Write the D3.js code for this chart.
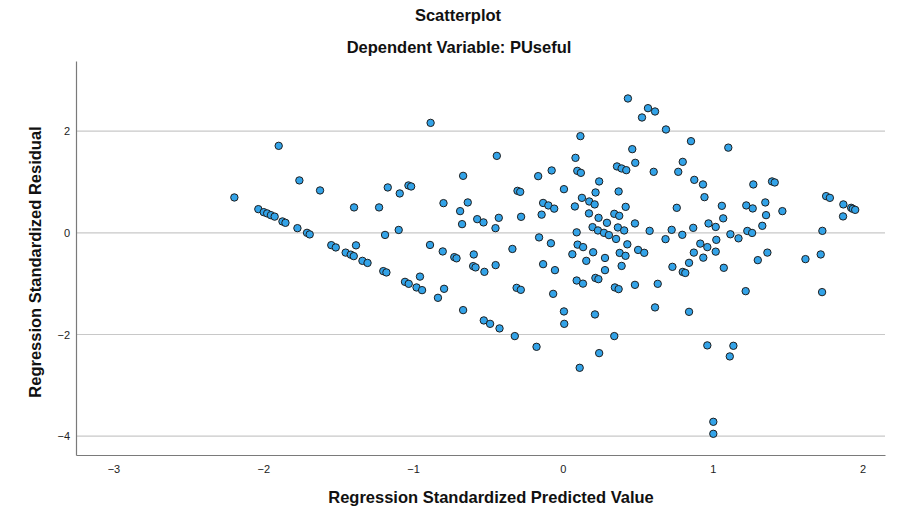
<!DOCTYPE html>
<html>
<head>
<meta charset="utf-8">
<script src="https://cdn.jsdelivr.net/npm/d3@7"></script>
<style>
  body { margin: 0; background: #fff; }
  svg { display: block; font-family: "Liberation Sans", Arial, sans-serif; }
</style>
</head>
<body>
<div id="chart"></div>
<script>
// values
var predicted = [
  -2.193,-2.033,-1.997,-1.974,-1.949,-1.924,-1.897,-1.872,-1.852,-1.772,
  -1.759,-1.708,-1.690,-1.621,-1.546,-1.516,-1.450,-1.416,-1.396,-1.381,
  -1.394,-1.338,-1.304,-1.227,-1.199,-1.178,-1.187,-1.169,-1.096,-1.089,
  -1.054,-1.029,-1.031,-1.013,-0.977,-0.954,-0.940,-0.887,-0.883,-0.834,
  -0.797,-0.802,-0.793,-0.725,-0.710,-0.686,-0.673,-0.666,-0.666,-0.635,
  -0.599,-0.583,-0.595,-0.572,-0.530,-0.524,-0.528,-0.486,-0.450,-0.449,
  -0.441,-0.428,-0.423,-0.337,-0.321,-0.309,-0.281,-0.303,-0.285,-0.279,
  -0.176,-0.165,-0.159,-0.142,-0.132,-0.132,-0.097,-0.080,-0.075,-0.065,
  -0.058,-0.053,0.007,0.009,0.007,0.063,0.084,0.080,0.092,0.092,
  0.096,0.120,0.098,0.135,0.112,0.117,0.127,0.134,0.156,0.176,
  0.174,0.198,0.202,0.212,0.214,0.218,0.217,0.237,0.234,0.238,
  0.242,0.242,0.274,0.281,0.281,0.294,0.307,0.343,0.343,0.347,
  0.372,0.355,0.361,0.392,0.423,0.367,0.372,0.376,0.379,0.418,
  0.392,0.409,0.419,0.430,0.434,0.463,0.483,0.481,0.481,0.502,
  0.543,0.528,0.568,0.615,0.579,0.606,0.615,0.633,0.685,0.688,
  0.726,0.731,0.760,0.770,0.800,0.797,0.800,0.817,0.842,0.842,
  0.855,0.870,0.874,0.877,0.917,0.935,0.945,0.937,0.964,0.964,
  0.972,1.004,1.004,1.020,1.020,1.024,1.061,1.070,1.074,1.104,
  1.114,1.118,1.138,1.172,1.220,1.224,1.231,1.263,1.267,1.271,
  1.301,1.331,1.351,1.356,1.365,1.396,1.414,1.465,1.619,1.721,
  1.732,1.757,1.782,1.872,1.870,1.924,1.935,1.951,1.730
];
var residual = [
  0.696,0.466,0.407,0.382,0.348,0.319,1.711,0.224,0.197,0.092,
  1.031,0.000,-0.031,0.834,-0.242,-0.287,-0.389,-0.429,-0.458,-0.246,
  0.500,-0.551,-0.592,0.500,-0.753,-0.779,-0.041,0.893,0.057,0.775,
  -0.964,-1.003,0.932,0.912,-1.074,-0.861,-1.127,-0.238,2.163,-1.278,
  0.584,-0.366,-1.101,-0.478,-0.501,0.427,0.171,1.121,-1.520,0.598,
  -0.655,-0.680,-0.425,0.269,0.205,-0.767,-1.723,-1.790,0.092,-0.635,
  1.514,0.295,-1.880,-0.317,-2.031,-1.082,-1.121,0.826,0.806,0.315,
  -2.242,1.115,-0.090,0.358,0.588,-0.616,0.539,-0.205,1.227,-1.200,
  0.476,-0.734,-1.546,-1.790,0.859,-0.421,1.475,0.519,0.010,-0.938,
  1.219,1.180,-0.232,-0.281,-2.655,1.902,0.688,-0.999,-0.551,0.617,
  0.382,0.112,-0.382,0.559,-1.605,0.794,-0.887,-0.911,0.047,0.295,
  1.011,-2.366,0.000,-0.494,-0.734,0.197,-0.045,0.374,-2.031,-1.074,
  -1.107,-0.120,1.306,1.266,1.233,0.106,0.814,0.334,-0.395,-0.452,
  -0.651,0.047,0.511,-0.226,2.643,1.646,1.377,0.185,-1.023,-0.336,
  -0.393,2.269,2.452,2.387,0.039,1.200,-1.467,-1.003,-0.124,2.033,
  0.059,-0.669,0.492,1.200,1.396,-0.039,-0.769,-0.789,-0.590,-1.554,
  1.803,0.098,-0.389,1.042,-0.212,0.952,0.702,-0.488,-0.281,-2.214,
  0.185,-3.717,-3.953,0.116,-0.370,-0.138,0.531,0.285,-0.688,1.676,
  -2.431,-0.028,-2.222,-0.108,-1.147,0.539,0.037,-0.002,0.480,0.952,
  -0.537,0.138,0.598,0.348,-0.389,1.011,0.991,0.427,-0.517,-0.425,
  0.039,0.722,0.688,0.559,0.323,0.492,0.472,0.452,-1.166
];
var xTicks = [-3, -2, -1, 0, 1, 2];
var yTicks = [-4, -2, 0, 2];

var width = 900, height = 517;
var plotLeft = 76, plotRight = 885, plotTop = 61, plotBottom = 455;

var svg = d3.select("#chart").append("svg")
    .attr("width", width)
    .attr("height", height);

var x = d3.scaleLinear().domain([-3.25, 2.15]).range([plotLeft, plotRight]);
var y = d3.scaleLinear().domain([-4.37, 3.38]).range([plotBottom, plotTop]);

// grid lines
svg.selectAll(".grid")
    .data(yTicks)
    .enter().append("line")
    .attr("class", "grid")
    .attr("x1", plotLeft).attr("x2", plotRight)
    .attr("y1", function(d) { return y(d); })
    .attr("y2", function(d) { return y(d); })
    .attr("stroke", "#c8c8c8")
    .attr("stroke-width", 1.2);

// axes
var fmt = d3.format("d");
var xAxis = svg.append("g")
    .attr("transform", "translate(0," + plotBottom + ")")
    .call(d3.axisBottom(x).tickValues(xTicks).tickFormat(fmt).tickSize(0).tickSizeOuter(0).tickPadding(10));
var yAxis = svg.append("g")
    .attr("transform", "translate(" + plotLeft + ",0)")
    .call(d3.axisLeft(y).tickValues(yTicks).tickFormat(fmt).tickSize(0).tickSizeOuter(0).tickPadding(6));

[xAxis, yAxis].forEach(function(g) {
    g.select(".domain").attr("stroke", "#7a7a7a").attr("stroke-width", 1.2);
    g.selectAll("text")
        .attr("fill", "#222")
        .style("font-size", "11px")
        .style("font-family", "'Liberation Sans', Arial, sans-serif");
});

// points
svg.selectAll(".dot")
    .data(predicted.map(function(p, i) { return { x: p, y: residual[i] }; }))
    .enter().append("circle")
    .attr("class", "dot")
    .attr("cx", function(d) { return x(d.x); })
    .attr("cy", function(d) { return y(d.y); })
    .attr("r", 3.7)
    .attr("fill", "#33a3e8")
    .attr("stroke", "#1e1e1e")
    .attr("stroke-width", 1);

// titles
svg.append("text")
    .attr("x", 458).attr("y", 21)
    .attr("text-anchor", "middle")
    .style("font-size", "16.5px").style("font-weight", "bold")
    .attr("fill", "#111")
    .text("Scatterplot");
svg.append("text")
    .attr("x", 459).attr("y", 53)
    .attr("text-anchor", "middle")
    .style("font-size", "16.5px").style("font-weight", "bold")
    .attr("fill", "#111")
    .text("Dependent Variable: PUseful");

svg.append("text")
    .attr("x", 491).attr("y", 503)
    .attr("text-anchor", "middle")
    .style("font-size", "16.5px").style("font-weight", "bold")
    .attr("fill", "#111")
    .text("Regression Standardized Predicted Value");

svg.append("text")
    .attr("transform", "translate(41,262) rotate(-90)")
    .attr("text-anchor", "middle")
    .style("font-size", "16.5px").style("font-weight", "bold")
    .attr("fill", "#111")
    .text("Regression Standardized Residual");
</script>
</body>
</html>
